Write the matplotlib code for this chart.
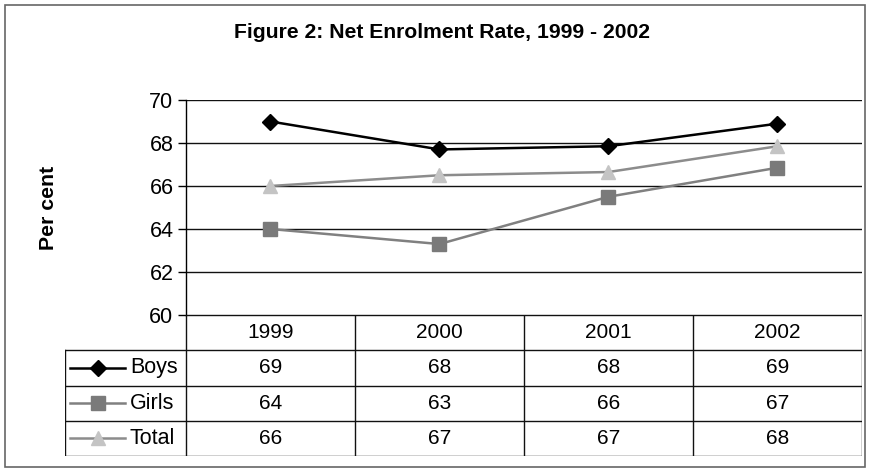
import matplotlib.pyplot as plt
from matplotlib.patches import Rectangle

years = ["1999", "2000", "2001", "2002"]
boys = [69.0, 67.7, 67.85, 68.9]
girls = [64.0, 63.3, 65.5, 66.85]
total = [66.0, 66.5, 66.65, 67.85]
# rounded figures printed in the data table
boys_tab = [69, 68, 68, 69]
girls_tab = [64, 63, 66, 67]
total_tab = [66, 67, 67, 68]
yticks = [60, 62, 64, 66, 68, 70]

plt.rcParams['font.family'] = ['Liberation Sans', 'DejaVu Sans']

W, H = 870, 476
fig = plt.figure(figsize=(W / 100, H / 100), dpi=100)

def box(x0, y0, x1, y1):
    # pixel box (top-left origin) -> figure fraction rect
    return [x0 / W, 1 - y1 / H, (x1 - x0) / W, (y1 - y0) / H]

# outer frame
fig.patches.append(Rectangle((5 / W, 1 - 467 / H), 860 / W, 462 / H,
                             transform=fig.transFigure, fill=False,
                             edgecolor="#666666", linewidth=1.2))

fig.text(442 / W, 1 - 33 / H, "Figure 2: Net Enrolment Rate, 1999 - 2002",
         ha="center", va="center", fontsize=15.2, fontweight="bold")

series = [
    ("Boys", boys, boys_tab, "#000000", "D", "#000000", 8),
    ("Girls", girls, girls_tab, "#808080", "s", "#7a7a7a", 10),
    ("Total", total, total_tab, "#8c8c8c", "^", "#c4c4c4", 10.5),
]

ax = fig.add_axes(box(186, 100, 862, 315))
x = [i + 0.5 for i in range(len(years))]
for name, vals, _, lc, mk, mc, ms in series[::-1]:
    ax.plot(x, vals, color=lc, linewidth=1.8, marker=mk, markersize=ms,
            markerfacecolor=mc, markeredgecolor=mc, zorder=3)
ax.set_xlim(0, 4)
ax.set_ylim(60, 70)
ax.set_yticks(yticks)
ax.set_xticks([])
for t in yticks:
    ax.axhline(t, color="#111111", linewidth=1.0, zorder=1)
for s in ["top", "right", "bottom"]:
    ax.spines[s].set_visible(False)
ax.spines["left"].set_linewidth(1.0)
ax.tick_params(axis="y", length=6, width=1.0, labelsize=15.5, pad=3)
ax.set_ylabel("Per cent", fontsize=15.3, fontweight="bold", labelpad=66)

# data table
lw = (186 - 65) / ((862 - 186) / 4)
px = 1 / ((862 - 186) / 4)
tb = fig.add_axes(box(65, 315, 862, 456))
tb.set_xlim(-lw, 4)
tb.set_ylim(4, 0)
tb.axis("off")
kw = dict(color="#111111", linewidth=1.0)
tb.plot([0, 4], [0, 0], **kw)
for r in range(1, 5):
    tb.plot([-lw, 4], [r, r], **kw)
for c in range(5):
    tb.plot([c, c], [0, 4], **kw)
tb.plot([-lw, -lw], [1, 4], **kw)
for i, yr in enumerate(years):
    tb.text(i + 0.5, 0.5, yr, ha="center", va="center", fontsize=15)
for r, (name, _, tab, lc, mk, mc, ms) in enumerate(series, start=1):
    tb.plot([-lw + 5 * px, -lw + 60 * px], [r + 0.5, r + 0.5], color=lc, linewidth=1.8)
    tb.plot([-lw + 33 * px], [r + 0.5], marker=mk, markersize=ms, color=mc)
    tb.text(-lw + 65 * px, r + 0.5, name, ha="left", va="center", fontsize=15.5)
    for i, v in enumerate(tab):
        tb.text(i + 0.5, r + 0.5, str(v), ha="center", va="center", fontsize=15)

fig.savefig("out.png", dpi=100)
